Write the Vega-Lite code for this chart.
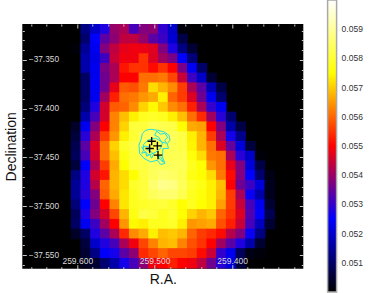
{"$schema":"https://vega.github.io/schema/vega-lite/v6.json","width":281,"height":244.7,"autosize":{"type":"none"},"padding":{"left":22.3,"top":24,"right":70.7,"bottom":24.3},"background":"white","view":{"fill":"black","stroke":null},"resolve":{"axis":{"x":"independent","y":"independent"}},"layer":[{"data":{"values":[
{"r":259.5896,"d":-37.3182,"v":0.05127},{"r":259.5771,"d":-37.3182,"v":0.05196},{"r":259.5646,"d":-37.3182,"v":0.0528},{"r":259.5521,"d":-37.3182,"v":0.05397},{"r":259.5395,"d":-37.3182,"v":0.05417},{"r":259.527,"d":-37.3182,"v":0.05319},{"r":259.5145,"d":-37.3182,"v":0.05377},{"r":259.502,"d":-37.3182,"v":0.05387},{"r":259.4895,"d":-37.3182,"v":0.05299},{"r":259.4769,"d":-37.3182,"v":0.05196},{"r":259.4644,"d":-37.3182,"v":0.0501},
{"r":259.5896,"d":-37.3282,"v":0.05108},{"r":259.5771,"d":-37.3282,"v":0.0525},{"r":259.5646,"d":-37.3282,"v":0.05338},{"r":259.5521,"d":-37.3282,"v":0.05387},{"r":259.5395,"d":-37.3282,"v":0.05436},{"r":259.527,"d":-37.3282,"v":0.05436},{"r":259.5145,"d":-37.3282,"v":0.05397},{"r":259.502,"d":-37.3282,"v":0.05338},{"r":259.4895,"d":-37.3282,"v":0.05309},{"r":259.4769,"d":-37.3282,"v":0.05206},{"r":259.4644,"d":-37.3282,"v":0.05069},
{"r":259.6021,"d":-37.3382,"v":0.0501},{"r":259.5896,"d":-37.3382,"v":0.05147},{"r":259.5771,"d":-37.3382,"v":0.05235},{"r":259.5646,"d":-37.3382,"v":0.05377},{"r":259.5521,"d":-37.3382,"v":0.05436},{"r":259.5395,"d":-37.3382,"v":0.05475},{"r":259.527,"d":-37.3382,"v":0.05485},{"r":259.5145,"d":-37.3382,"v":0.0548},{"r":259.502,"d":-37.3382,"v":0.0547},{"r":259.4895,"d":-37.3382,"v":0.05377},{"r":259.4769,"d":-37.3382,"v":0.0528},{"r":259.4644,"d":-37.3382,"v":0.05127},{"r":259.4519,"d":-37.3382,"v":0.0505},
{"r":259.5896,"d":-37.3482,"v":0.05167},{"r":259.5771,"d":-37.3482,"v":0.05225},{"r":259.5646,"d":-37.3482,"v":0.05309},{"r":259.5521,"d":-37.3482,"v":0.05446},{"r":259.5395,"d":-37.3482,"v":0.05485},{"r":259.527,"d":-37.3482,"v":0.05485},{"r":259.5145,"d":-37.3482,"v":0.05549},{"r":259.502,"d":-37.3482,"v":0.05466},{"r":259.4895,"d":-37.3482,"v":0.05407},{"r":259.4769,"d":-37.3482,"v":0.05368},{"r":259.4644,"d":-37.3482,"v":0.0525},{"r":259.4519,"d":-37.3482,"v":0.05118},
{"r":259.5896,"d":-37.3582,"v":0.05167},{"r":259.5771,"d":-37.3582,"v":0.05235},{"r":259.5646,"d":-37.3582,"v":0.05368},{"r":259.5521,"d":-37.3582,"v":0.05417},{"r":259.5395,"d":-37.3582,"v":0.0552},{"r":259.527,"d":-37.3582,"v":0.05549},{"r":259.5145,"d":-37.3582,"v":0.05549},{"r":259.502,"d":-37.3582,"v":0.0551},{"r":259.4895,"d":-37.3582,"v":0.05549},{"r":259.4769,"d":-37.3582,"v":0.055},{"r":259.4644,"d":-37.3582,"v":0.05368},{"r":259.4519,"d":-37.3582,"v":0.0524},{"r":259.4394,"d":-37.3582,"v":0.051},
{"r":259.5896,"d":-37.3681,"v":0.05098},{"r":259.5771,"d":-37.3681,"v":0.05235},{"r":259.5646,"d":-37.3681,"v":0.05358},{"r":259.5521,"d":-37.3681,"v":0.05417},{"r":259.5395,"d":-37.3681,"v":0.055},{"r":259.527,"d":-37.3681,"v":0.055},{"r":259.5145,"d":-37.3681,"v":0.05608},{"r":259.502,"d":-37.3681,"v":0.05608},{"r":259.4895,"d":-37.3681,"v":0.05618},{"r":259.4769,"d":-37.3681,"v":0.05569},{"r":259.4644,"d":-37.3681,"v":0.05446},{"r":259.4519,"d":-37.3681,"v":0.05309},{"r":259.4394,"d":-37.3681,"v":0.05196},{"r":259.4269,"d":-37.3681,"v":0.05049},
{"r":259.5896,"d":-37.3781,"v":0.05098},{"r":259.5771,"d":-37.3781,"v":0.05235},{"r":259.5646,"d":-37.3781,"v":0.05358},{"r":259.5521,"d":-37.3781,"v":0.05475},{"r":259.5395,"d":-37.3781,"v":0.05588},{"r":259.527,"d":-37.3781,"v":0.05578},{"r":259.5145,"d":-37.3781,"v":0.05618},{"r":259.502,"d":-37.3781,"v":0.05716},{"r":259.4895,"d":-37.3781,"v":0.05676},{"r":259.4769,"d":-37.3781,"v":0.05637},{"r":259.4644,"d":-37.3781,"v":0.05559},{"r":259.4519,"d":-37.3781,"v":0.05417},{"r":259.4394,"d":-37.3781,"v":0.05338},{"r":259.4269,"d":-37.3781,"v":0.05176},{"r":259.4144,"d":-37.3781,"v":0.05069},
{"r":259.5896,"d":-37.3881,"v":0.05098},{"r":259.5771,"d":-37.3881,"v":0.05235},{"r":259.5646,"d":-37.3881,"v":0.05407},{"r":259.5521,"d":-37.3881,"v":0.05529},{"r":259.5395,"d":-37.3881,"v":0.05608},{"r":259.527,"d":-37.3881,"v":0.05618},{"r":259.5145,"d":-37.3881,"v":0.05647},{"r":259.502,"d":-37.3881,"v":0.05667},{"r":259.4895,"d":-37.3881,"v":0.05735},{"r":259.4769,"d":-37.3881,"v":0.05598},{"r":259.4644,"d":-37.3881,"v":0.05559},{"r":259.4519,"d":-37.3881,"v":0.05466},{"r":259.4394,"d":-37.3881,"v":0.05358},{"r":259.4269,"d":-37.3881,"v":0.05235},{"r":259.4144,"d":-37.3881,"v":0.05108},
{"r":259.5896,"d":-37.3981,"v":0.05118},{"r":259.5771,"d":-37.3981,"v":0.0528},{"r":259.5646,"d":-37.3981,"v":0.05456},{"r":259.5521,"d":-37.3981,"v":0.05588},{"r":259.5395,"d":-37.3981,"v":0.05598},{"r":259.527,"d":-37.3981,"v":0.05637},{"r":259.5145,"d":-37.3981,"v":0.05706},{"r":259.502,"d":-37.3981,"v":0.05745},{"r":259.4895,"d":-37.3981,"v":0.05696},{"r":259.4769,"d":-37.3981,"v":0.05637},{"r":259.4644,"d":-37.3981,"v":0.05608},{"r":259.4519,"d":-37.3981,"v":0.05529},{"r":259.4394,"d":-37.3981,"v":0.05417},{"r":259.4269,"d":-37.3981,"v":0.053},{"r":259.4144,"d":-37.3981,"v":0.05235},
{"r":259.5896,"d":-37.4081,"v":0.05167},{"r":259.5771,"d":-37.4081,"v":0.05319},{"r":259.5646,"d":-37.4081,"v":0.05456},{"r":259.5521,"d":-37.4081,"v":0.05627},{"r":259.5395,"d":-37.4081,"v":0.05686},{"r":259.527,"d":-37.4081,"v":0.05735},{"r":259.5145,"d":-37.4081,"v":0.0578},{"r":259.502,"d":-37.4081,"v":0.0579},{"r":259.4895,"d":-37.4081,"v":0.0578},{"r":259.4769,"d":-37.4081,"v":0.05735},{"r":259.4644,"d":-37.4081,"v":0.05686},{"r":259.4519,"d":-37.4081,"v":0.05608},{"r":259.4394,"d":-37.4081,"v":0.05539},{"r":259.4269,"d":-37.4081,"v":0.05407},{"r":259.4144,"d":-37.4081,"v":0.0529},{"r":259.4018,"d":-37.4081,"v":0.05108},
{"r":259.6021,"d":-37.4181,"v":0.05039},{"r":259.5896,"d":-37.4181,"v":0.05235},{"r":259.5771,"d":-37.4181,"v":0.05377},{"r":259.5646,"d":-37.4181,"v":0.055},{"r":259.5521,"d":-37.4181,"v":0.05627},{"r":259.5395,"d":-37.4181,"v":0.05706},{"r":259.527,"d":-37.4181,"v":0.05809},{"r":259.5145,"d":-37.4181,"v":0.05809},{"r":259.502,"d":-37.4181,"v":0.05838},{"r":259.4895,"d":-37.4181,"v":0.05828},{"r":259.4769,"d":-37.4181,"v":0.05819},{"r":259.4644,"d":-37.4181,"v":0.0575},{"r":259.4519,"d":-37.4181,"v":0.05667},{"r":259.4394,"d":-37.4181,"v":0.05657},{"r":259.4269,"d":-37.4181,"v":0.055},{"r":259.4144,"d":-37.4181,"v":0.05377},{"r":259.4018,"d":-37.4181,"v":0.05167},{"r":259.3893,"d":-37.4181,"v":0.05069},
{"r":259.6021,"d":-37.4281,"v":0.05059},{"r":259.5896,"d":-37.4281,"v":0.0529},{"r":259.5771,"d":-37.4281,"v":0.05417},{"r":259.5646,"d":-37.4281,"v":0.05559},{"r":259.5521,"d":-37.4281,"v":0.05647},{"r":259.5395,"d":-37.4281,"v":0.05735},{"r":259.527,"d":-37.4281,"v":0.058},{"r":259.5145,"d":-37.4281,"v":0.05838},{"r":259.502,"d":-37.4281,"v":0.05848},{"r":259.4895,"d":-37.4281,"v":0.05848},{"r":259.4769,"d":-37.4281,"v":0.05838},{"r":259.4644,"d":-37.4281,"v":0.05819},{"r":259.4519,"d":-37.4281,"v":0.05735},{"r":259.4394,"d":-37.4281,"v":0.05676},{"r":259.4269,"d":-37.4281,"v":0.05559},{"r":259.4144,"d":-37.4281,"v":0.05417},{"r":259.4018,"d":-37.4281,"v":0.0527},{"r":259.3893,"d":-37.4281,"v":0.05137},
{"r":259.6021,"d":-37.4381,"v":0.05078},{"r":259.5896,"d":-37.4381,"v":0.05338},{"r":259.5771,"d":-37.4381,"v":0.05466},{"r":259.5646,"d":-37.4381,"v":0.05608},{"r":259.5521,"d":-37.4381,"v":0.05706},{"r":259.5395,"d":-37.4381,"v":0.0579},{"r":259.527,"d":-37.4381,"v":0.05819},{"r":259.5145,"d":-37.4381,"v":0.0583},{"r":259.502,"d":-37.4381,"v":0.0583},{"r":259.4895,"d":-37.4381,"v":0.0583},{"r":259.4769,"d":-37.4381,"v":0.0583},{"r":259.4644,"d":-37.4381,"v":0.05819},{"r":259.4519,"d":-37.4381,"v":0.0574},{"r":259.4394,"d":-37.4381,"v":0.05676},{"r":259.4269,"d":-37.4381,"v":0.05608},{"r":259.4144,"d":-37.4381,"v":0.05466},{"r":259.4018,"d":-37.4381,"v":0.05348},{"r":259.3893,"d":-37.4381,"v":0.05215},{"r":259.3768,"d":-37.4381,"v":0.05059},
{"r":259.6021,"d":-37.4481,"v":0.05088},{"r":259.5896,"d":-37.4481,"v":0.05319},{"r":259.5771,"d":-37.4481,"v":0.05456},{"r":259.5646,"d":-37.4481,"v":0.05608},{"r":259.5521,"d":-37.4481,"v":0.05686},{"r":259.5395,"d":-37.4481,"v":0.0577},{"r":259.527,"d":-37.4481,"v":0.05809},{"r":259.5145,"d":-37.4481,"v":0.0583},{"r":259.502,"d":-37.4481,"v":0.0583},{"r":259.4895,"d":-37.4481,"v":0.0583},{"r":259.4769,"d":-37.4481,"v":0.0583},{"r":259.4644,"d":-37.4481,"v":0.0583},{"r":259.4519,"d":-37.4481,"v":0.0576},{"r":259.4394,"d":-37.4481,"v":0.05716},{"r":259.4269,"d":-37.4481,"v":0.05618},{"r":259.4144,"d":-37.4481,"v":0.05608},{"r":259.4018,"d":-37.4481,"v":0.05417},{"r":259.3893,"d":-37.4481,"v":0.0529},{"r":259.3768,"d":-37.4481,"v":0.05196},{"r":259.3643,"d":-37.4481,"v":0.0501},
{"r":259.6021,"d":-37.4581,"v":0.05059},{"r":259.5896,"d":-37.4581,"v":0.05245},{"r":259.5771,"d":-37.4581,"v":0.05417},{"r":259.5646,"d":-37.4581,"v":0.05559},{"r":259.5521,"d":-37.4581,"v":0.05667},{"r":259.5395,"d":-37.4581,"v":0.0575},{"r":259.527,"d":-37.4581,"v":0.05809},{"r":259.5145,"d":-37.4581,"v":0.05819},{"r":259.502,"d":-37.4581,"v":0.05838},{"r":259.4895,"d":-37.4581,"v":0.05838},{"r":259.4769,"d":-37.4581,"v":0.05838},{"r":259.4644,"d":-37.4581,"v":0.05838},{"r":259.4519,"d":-37.4581,"v":0.0578},{"r":259.4394,"d":-37.4581,"v":0.0575},{"r":259.4269,"d":-37.4581,"v":0.05647},{"r":259.4144,"d":-37.4581,"v":0.05608},{"r":259.4018,"d":-37.4581,"v":0.05475},{"r":259.3893,"d":-37.4581,"v":0.05377},{"r":259.3768,"d":-37.4581,"v":0.05215},{"r":259.3643,"d":-37.4581,"v":0.05069},
{"r":259.6021,"d":-37.468,"v":0.05127},{"r":259.5896,"d":-37.468,"v":0.0528},{"r":259.5771,"d":-37.468,"v":0.05456},{"r":259.5646,"d":-37.468,"v":0.0552},{"r":259.5521,"d":-37.468,"v":0.05676},{"r":259.5395,"d":-37.468,"v":0.05716},{"r":259.527,"d":-37.468,"v":0.0575},{"r":259.5145,"d":-37.468,"v":0.05809},{"r":259.502,"d":-37.468,"v":0.05838},{"r":259.4895,"d":-37.468,"v":0.05858},{"r":259.4769,"d":-37.468,"v":0.05848},{"r":259.4644,"d":-37.468,"v":0.05828},{"r":259.4519,"d":-37.468,"v":0.0577},{"r":259.4394,"d":-37.468,"v":0.0575},{"r":259.4269,"d":-37.468,"v":0.05716},{"r":259.4144,"d":-37.468,"v":0.05618},{"r":259.4018,"d":-37.468,"v":0.0551},{"r":259.3893,"d":-37.468,"v":0.05377},{"r":259.3768,"d":-37.468,"v":0.0525},{"r":259.3643,"d":-37.468,"v":0.05108},{"r":259.3518,"d":-37.468,"v":0.0502},
{"r":259.6021,"d":-37.478,"v":0.05147},{"r":259.5896,"d":-37.478,"v":0.0528},{"r":259.5771,"d":-37.478,"v":0.05427},{"r":259.5646,"d":-37.478,"v":0.05598},{"r":259.5521,"d":-37.478,"v":0.05676},{"r":259.5395,"d":-37.478,"v":0.05716},{"r":259.527,"d":-37.478,"v":0.0579},{"r":259.5145,"d":-37.478,"v":0.05809},{"r":259.502,"d":-37.478,"v":0.05858},{"r":259.4895,"d":-37.478,"v":0.05887},{"r":259.4769,"d":-37.478,"v":0.05877},{"r":259.4644,"d":-37.478,"v":0.05838},{"r":259.4519,"d":-37.478,"v":0.0579},{"r":259.4394,"d":-37.478,"v":0.0577},{"r":259.4269,"d":-37.478,"v":0.05735},{"r":259.4144,"d":-37.478,"v":0.05686},{"r":259.4018,"d":-37.478,"v":0.055},{"r":259.3893,"d":-37.478,"v":0.05358},{"r":259.3768,"d":-37.478,"v":0.05309},{"r":259.3643,"d":-37.478,"v":0.05215},{"r":259.3518,"d":-37.478,"v":0.05029},
{"r":259.6021,"d":-37.488,"v":0.05147},{"r":259.5896,"d":-37.488,"v":0.0529},{"r":259.5771,"d":-37.488,"v":0.05377},{"r":259.5646,"d":-37.488,"v":0.05588},{"r":259.5521,"d":-37.488,"v":0.05667},{"r":259.5395,"d":-37.488,"v":0.05725},{"r":259.527,"d":-37.488,"v":0.0578},{"r":259.5145,"d":-37.488,"v":0.05809},{"r":259.502,"d":-37.488,"v":0.05838},{"r":259.4895,"d":-37.488,"v":0.05858},{"r":259.4769,"d":-37.488,"v":0.05858},{"r":259.4644,"d":-37.488,"v":0.05828},{"r":259.4519,"d":-37.488,"v":0.0578},{"r":259.4394,"d":-37.488,"v":0.0576},{"r":259.4269,"d":-37.488,"v":0.05735},{"r":259.4144,"d":-37.488,"v":0.05676},{"r":259.4018,"d":-37.488,"v":0.05559},{"r":259.3893,"d":-37.488,"v":0.05417},{"r":259.3768,"d":-37.488,"v":0.0526},{"r":259.3643,"d":-37.488,"v":0.05167},{"r":259.3518,"d":-37.488,"v":0.05029},
{"r":259.6021,"d":-37.498,"v":0.05118},{"r":259.5896,"d":-37.498,"v":0.0525},{"r":259.5771,"d":-37.498,"v":0.05358},{"r":259.5646,"d":-37.498,"v":0.055},{"r":259.5521,"d":-37.498,"v":0.05627},{"r":259.5395,"d":-37.498,"v":0.05725},{"r":259.527,"d":-37.498,"v":0.0578},{"r":259.5145,"d":-37.498,"v":0.0579},{"r":259.502,"d":-37.498,"v":0.058},{"r":259.4895,"d":-37.498,"v":0.05809},{"r":259.4769,"d":-37.498,"v":0.0579},{"r":259.4644,"d":-37.498,"v":0.0575},{"r":259.4519,"d":-37.498,"v":0.0578},{"r":259.4394,"d":-37.498,"v":0.0575},{"r":259.4269,"d":-37.498,"v":0.05735},{"r":259.4144,"d":-37.498,"v":0.05657},{"r":259.4018,"d":-37.498,"v":0.05559},{"r":259.3893,"d":-37.498,"v":0.05446},{"r":259.3768,"d":-37.498,"v":0.05319},{"r":259.3643,"d":-37.498,"v":0.05235},{"r":259.3518,"d":-37.498,"v":0.05049},
{"r":259.6021,"d":-37.508,"v":0.05088},{"r":259.5896,"d":-37.508,"v":0.0528},{"r":259.5771,"d":-37.508,"v":0.05377},{"r":259.5646,"d":-37.508,"v":0.05456},{"r":259.5521,"d":-37.508,"v":0.05569},{"r":259.5395,"d":-37.508,"v":0.05676},{"r":259.527,"d":-37.508,"v":0.0577},{"r":259.5145,"d":-37.508,"v":0.05819},{"r":259.502,"d":-37.508,"v":0.05809},{"r":259.4895,"d":-37.508,"v":0.0578},{"r":259.4769,"d":-37.508,"v":0.058},{"r":259.4644,"d":-37.508,"v":0.0575},{"r":259.4519,"d":-37.508,"v":0.05706},{"r":259.4394,"d":-37.508,"v":0.05676},{"r":259.4269,"d":-37.508,"v":0.05696},{"r":259.4144,"d":-37.508,"v":0.05598},{"r":259.4018,"d":-37.508,"v":0.05549},{"r":259.3893,"d":-37.508,"v":0.05466},{"r":259.3768,"d":-37.508,"v":0.05328},{"r":259.3643,"d":-37.508,"v":0.05245},{"r":259.3518,"d":-37.508,"v":0.05078},
{"r":259.6021,"d":-37.518,"v":0.05098},{"r":259.5896,"d":-37.518,"v":0.05235},{"r":259.5771,"d":-37.518,"v":0.05309},{"r":259.5646,"d":-37.518,"v":0.05407},{"r":259.5521,"d":-37.518,"v":0.055},{"r":259.5395,"d":-37.518,"v":0.05647},{"r":259.527,"d":-37.518,"v":0.05745},{"r":259.5145,"d":-37.518,"v":0.05735},{"r":259.502,"d":-37.518,"v":0.0578},{"r":259.4895,"d":-37.518,"v":0.0578},{"r":259.4769,"d":-37.518,"v":0.0579},{"r":259.4644,"d":-37.518,"v":0.05735},{"r":259.4519,"d":-37.518,"v":0.05647},{"r":259.4394,"d":-37.518,"v":0.05657},{"r":259.4269,"d":-37.518,"v":0.05667},{"r":259.4144,"d":-37.518,"v":0.05578},{"r":259.4018,"d":-37.518,"v":0.05529},{"r":259.3893,"d":-37.518,"v":0.05446},{"r":259.3768,"d":-37.518,"v":0.05319},{"r":259.3643,"d":-37.518,"v":0.05186},{"r":259.3518,"d":-37.518,"v":0.05049},
{"r":259.6021,"d":-37.528,"v":0.05039},{"r":259.5896,"d":-37.528,"v":0.05098},{"r":259.5771,"d":-37.528,"v":0.0528},{"r":259.5646,"d":-37.528,"v":0.05338},{"r":259.5521,"d":-37.528,"v":0.05417},{"r":259.5395,"d":-37.528,"v":0.05539},{"r":259.527,"d":-37.528,"v":0.05637},{"r":259.5145,"d":-37.528,"v":0.05667},{"r":259.502,"d":-37.528,"v":0.05735},{"r":259.4895,"d":-37.528,"v":0.05686},{"r":259.4769,"d":-37.528,"v":0.05696},{"r":259.4644,"d":-37.528,"v":0.05676},{"r":259.4519,"d":-37.528,"v":0.05598},{"r":259.4394,"d":-37.528,"v":0.05559},{"r":259.4269,"d":-37.528,"v":0.05539},{"r":259.4144,"d":-37.528,"v":0.0551},{"r":259.4018,"d":-37.528,"v":0.05427},{"r":259.3893,"d":-37.528,"v":0.05377},{"r":259.3768,"d":-37.528,"v":0.0526},{"r":259.3643,"d":-37.528,"v":0.05127},
{"r":259.5896,"d":-37.538,"v":0.05059},{"r":259.5771,"d":-37.538,"v":0.05196},{"r":259.5646,"d":-37.538,"v":0.0528},{"r":259.5521,"d":-37.538,"v":0.05319},{"r":259.5395,"d":-37.538,"v":0.05417},{"r":259.527,"d":-37.538,"v":0.05485},{"r":259.5145,"d":-37.538,"v":0.05569},{"r":259.502,"d":-37.538,"v":0.05627},{"r":259.4895,"d":-37.538,"v":0.05676},{"r":259.4769,"d":-37.538,"v":0.05686},{"r":259.4644,"d":-37.538,"v":0.05627},{"r":259.4519,"d":-37.538,"v":0.05578},{"r":259.4394,"d":-37.538,"v":0.05549},{"r":259.4269,"d":-37.538,"v":0.055},{"r":259.4144,"d":-37.538,"v":0.05407},{"r":259.4018,"d":-37.538,"v":0.05338},{"r":259.3893,"d":-37.538,"v":0.0528},{"r":259.3768,"d":-37.538,"v":0.05167},{"r":259.3643,"d":-37.538,"v":0.05049},
{"r":259.5896,"d":-37.548,"v":0.05049},{"r":259.5771,"d":-37.548,"v":0.05127},{"r":259.5646,"d":-37.548,"v":0.05245},{"r":259.5521,"d":-37.548,"v":0.0527},{"r":259.5395,"d":-37.548,"v":0.05338},{"r":259.527,"d":-37.548,"v":0.05387},{"r":259.5145,"d":-37.548,"v":0.05539},{"r":259.502,"d":-37.548,"v":0.05569},{"r":259.4895,"d":-37.548,"v":0.05598},{"r":259.4769,"d":-37.548,"v":0.05569},{"r":259.4644,"d":-37.548,"v":0.05569},{"r":259.4519,"d":-37.548,"v":0.05559},{"r":259.4394,"d":-37.548,"v":0.0551},{"r":259.4269,"d":-37.548,"v":0.05446},{"r":259.4144,"d":-37.548,"v":0.053},{"r":259.4018,"d":-37.548,"v":0.05235},{"r":259.3893,"d":-37.548,"v":0.05088},{"r":259.3768,"d":-37.548,"v":0.0502},{"r":259.3643,"d":-37.548,"v":0.0501},
{"r":259.5896,"d":-37.558,"v":0.05029},{"r":259.5771,"d":-37.558,"v":0.05049},{"r":259.5646,"d":-37.558,"v":0.05108},{"r":259.5521,"d":-37.558,"v":0.05167},{"r":259.5395,"d":-37.558,"v":0.0527},{"r":259.527,"d":-37.558,"v":0.05319},{"r":259.5145,"d":-37.558,"v":0.05387},{"r":259.502,"d":-37.558,"v":0.05485},{"r":259.4895,"d":-37.558,"v":0.055},{"r":259.4769,"d":-37.558,"v":0.05529},{"r":259.4644,"d":-37.558,"v":0.055},{"r":259.4519,"d":-37.558,"v":0.05485},{"r":259.4394,"d":-37.558,"v":0.05436},{"r":259.4269,"d":-37.558,"v":0.05358},{"r":259.4144,"d":-37.558,"v":0.0529},{"r":259.4018,"d":-37.558,"v":0.05215},{"r":259.3893,"d":-37.558,"v":0.05059}
]},"mark":{"type":"rect","width":10.5,"height":10.5,"xOffset":0.4,"yOffset":0.36},"encoding":{"x":{"field":"r","type":"quantitative","scale":{"domain":[259.671,259.308],"nice":false,"zero":false},"axis":{"orient":"bottom","zindex":1,"title":"R.A.","titleFont":"Liberation Sans","titleFontSize":14,"titleFontWeight":"normal","titleColor":"#111","titlePadding":3,"values":[259.66,259.64,259.62,259.6,259.58,259.56,259.54,259.52,259.5,259.48,259.46,259.44,259.42,259.4,259.38,259.36,259.34,259.32],"labelExpr":"abs(datum.value*10-round(datum.value*10))<0.000001 ? format(datum.value,'.3f') : ''","labelOverlap":false,"labelFlush":false,"labelBound":false,"labelFont":"Liberation Sans","labelFontSize":8.5,"labelColor":"#d8d8d8","labelPadding":-8,"tickColor":"#c8c8c8","tickWidth":1,"tickSize":{"condition":{"test":"abs(datum.value*10-round(datum.value*10))<0.000001","value":-4},"value":-2},"domain":false,"grid":false}},"y":{"field":"d","type":"quantitative","scale":{"domain":[-37.564,-37.3132],"nice":false,"zero":false},"axis":{"orient":"left","zindex":1,"title":"Declination","titleFont":"Liberation Sans","titleFontSize":14,"titleFontWeight":"normal","titleColor":"#111","titlePadding":3,"values":[-37.56,-37.55,-37.54,-37.53,-37.52,-37.51,-37.5,-37.49,-37.48,-37.47,-37.46,-37.45,-37.44,-37.43,-37.42,-37.41,-37.4,-37.39,-37.38,-37.37,-37.36,-37.35,-37.34,-37.33,-37.32],"labelExpr":"abs(datum.value*20-round(datum.value*20))<0.000001 ? format(datum.value,'.3f') : ''","labelOverlap":false,"labelFlush":false,"labelBound":false,"labelFont":"Liberation Sans","labelFontSize":8.3,"labelColor":"#d8d8d8","labelAlign":"left","labelPadding":-2,"tickColor":"#c8c8c8","tickWidth":1,"tickSize":{"condition":{"test":"abs(datum.value*20-round(datum.value*20))<0.000001","value":-4},"value":-2},"domain":false,"grid":false}},"color":{"field":"v","type":"quantitative","scale":{"domain":[0.05,0.0525,0.055,0.0575,0.06],"range":["#000000","#0000ff","#ff0000","#ffff00","#ffffff"],"interpolate":"rgb","clamp":true},"legend":{"orient":"none","legendX":305.3,"legendY":-24,"title":null,"direction":"vertical","gradientLength":292,"gradientThickness":9,"gradientStrokeColor":"#a8a8a8","gradientStrokeWidth":1.5,"values":[0.051,0.052,0.053,0.054,0.055,0.056,0.057,0.058,0.059],"format":".3f","labelFont":"Liberation Sans","labelFontSize":8.5,"labelColor":"#333","labelOffset":5}}}},
{"data":{"values":[
{"c":"a","i":1,"r":259.5116,"d":-37.4221},{"c":"a","i":2,"r":259.5052,"d":-37.4211},{"c":"a","i":3,"r":259.4965,"d":-37.4221},{"c":"a","i":4,"r":259.488,"d":-37.4238},{"c":"a","i":5,"r":259.4815,"d":-37.4272},{"c":"a","i":6,"r":259.4802,"d":-37.4323},{"c":"a","i":7,"r":259.4836,"d":-37.4357},{"c":"a","i":8,"r":259.4823,"d":-37.4408},{"c":"a","i":9,"r":259.4893,"d":-37.4408},{"c":"a","i":10,"r":259.4901,"d":-37.4494},{"c":"a","i":11,"r":259.4867,"d":-37.4561},{"c":"a","i":12,"r":259.4922,"d":-37.4572},{"c":"a","i":13,"r":259.4965,"d":-37.4528},{"c":"a","i":14,"r":259.5052,"d":-37.4545},{"c":"a","i":15,"r":259.5138,"d":-37.451},{"c":"a","i":16,"r":259.5194,"d":-37.4459},{"c":"a","i":17,"r":259.5203,"d":-37.4374},{"c":"a","i":18,"r":259.5172,"d":-37.4306},{"c":"a","i":19,"r":259.5159,"d":-37.4255},{"c":"a","i":20,"r":259.5116,"d":-37.4221},
{"c":"b","i":1,"r":259.509,"d":-37.4323},{"c":"b","i":2,"r":259.4987,"d":-37.4303},{"c":"b","i":3,"r":259.4897,"d":-37.4344},{"c":"b","i":4,"r":259.4922,"d":-37.4405},{"c":"b","i":5,"r":259.4987,"d":-37.4446},{"c":"b","i":6,"r":259.5078,"d":-37.4476},{"c":"b","i":7,"r":259.5142,"d":-37.4425},{"c":"b","i":8,"r":259.5142,"d":-37.4364},{"c":"b","i":9,"r":259.509,"d":-37.4323},
{"c":"c","i":1,"r":259.5168,"d":-37.4395},{"c":"c","i":2,"r":259.5142,"d":-37.4425},{"c":"c","i":3,"r":259.5168,"d":-37.4456},{"c":"c","i":4,"r":259.5116,"d":-37.4446},{"c":"c","i":5,"r":259.5103,"d":-37.4487},{"c":"c","i":6,"r":259.5065,"d":-37.4466},{"c":"c","i":7,"r":259.5039,"d":-37.4507},{"c":"c","i":8,"r":259.5013,"d":-37.4466},{"c":"c","i":9,"r":259.5052,"d":-37.4436},{"c":"c","i":10,"r":259.509,"d":-37.4425},{"c":"c","i":11,"r":259.5065,"d":-37.4395},{"c":"c","i":12,"r":259.5116,"d":-37.4384},{"c":"c","i":13,"r":259.5168,"d":-37.4395},
{"c":"d","i":1,"r":259.4974,"d":-37.4231},{"c":"d","i":2,"r":259.4922,"d":-37.4262},{"c":"d","i":3,"r":259.4871,"d":-37.4252},{"c":"d","i":4,"r":259.4832,"d":-37.4292},{"c":"d","i":5,"r":259.4871,"d":-37.4323},{"c":"d","i":6,"r":259.4845,"d":-37.4354},{"c":"d","i":7,"r":259.491,"d":-37.4344},{"c":"d","i":8,"r":259.4948,"d":-37.4292},{"c":"d","i":9,"r":259.5,"d":-37.4272},{"c":"d","i":10,"r":259.4974,"d":-37.4231},
{"c":"e","i":1,"r":259.4961,"d":-37.4487},{"c":"e","i":2,"r":259.4922,"d":-37.4528},{"c":"e","i":3,"r":259.4884,"d":-37.4548},{"c":"e","i":4,"r":259.4922,"d":-37.4497},{"c":"e","i":5,"r":259.4961,"d":-37.4487}
]},"mark":{"type":"line","color":"#22e0e0","strokeWidth":1},"encoding":{"x":{"field":"r","type":"quantitative","axis":null},"y":{"field":"d","type":"quantitative","axis":null},"detail":{"field":"c"},"order":{"field":"i","type":"quantitative"}}},
{"data":{"values":[{"r":259.5039,"d":-37.4333},{"r":259.5065,"d":-37.4408},{"r":259.4965,"d":-37.4381},{"r":259.4957,"d":-37.4476}]},"mark":{"type":"point","shape":"M-1,0H1M0,-1V1","size":70,"color":"#000","strokeWidth":1.4,"opacity":1},"encoding":{"x":{"field":"r","type":"quantitative","axis":{"orient":"top","zindex":1,"title":null,"labels":false,"domain":false,"grid":false,"tickColor":"#c8c8c8","values":[259.66,259.64,259.62,259.6,259.58,259.56,259.54,259.52,259.5,259.48,259.46,259.44,259.42,259.4,259.38,259.36,259.34,259.32],"tickSize":{"condition":{"test":"abs(datum.value*10-round(datum.value*10))<0.000001","value":-4},"value":-2}}},"y":{"field":"d","type":"quantitative","axis":{"orient":"right","zindex":1,"title":null,"labels":false,"domain":false,"grid":false,"tickColor":"#c8c8c8","values":[-37.56,-37.55,-37.54,-37.53,-37.52,-37.51,-37.5,-37.49,-37.48,-37.47,-37.46,-37.45,-37.44,-37.43,-37.42,-37.41,-37.4,-37.39,-37.38,-37.37,-37.36,-37.35,-37.34,-37.33,-37.32],"tickSize":{"condition":{"test":"abs(datum.value*20-round(datum.value*20))<0.000001","value":-4},"value":-2}}}}}
]}
